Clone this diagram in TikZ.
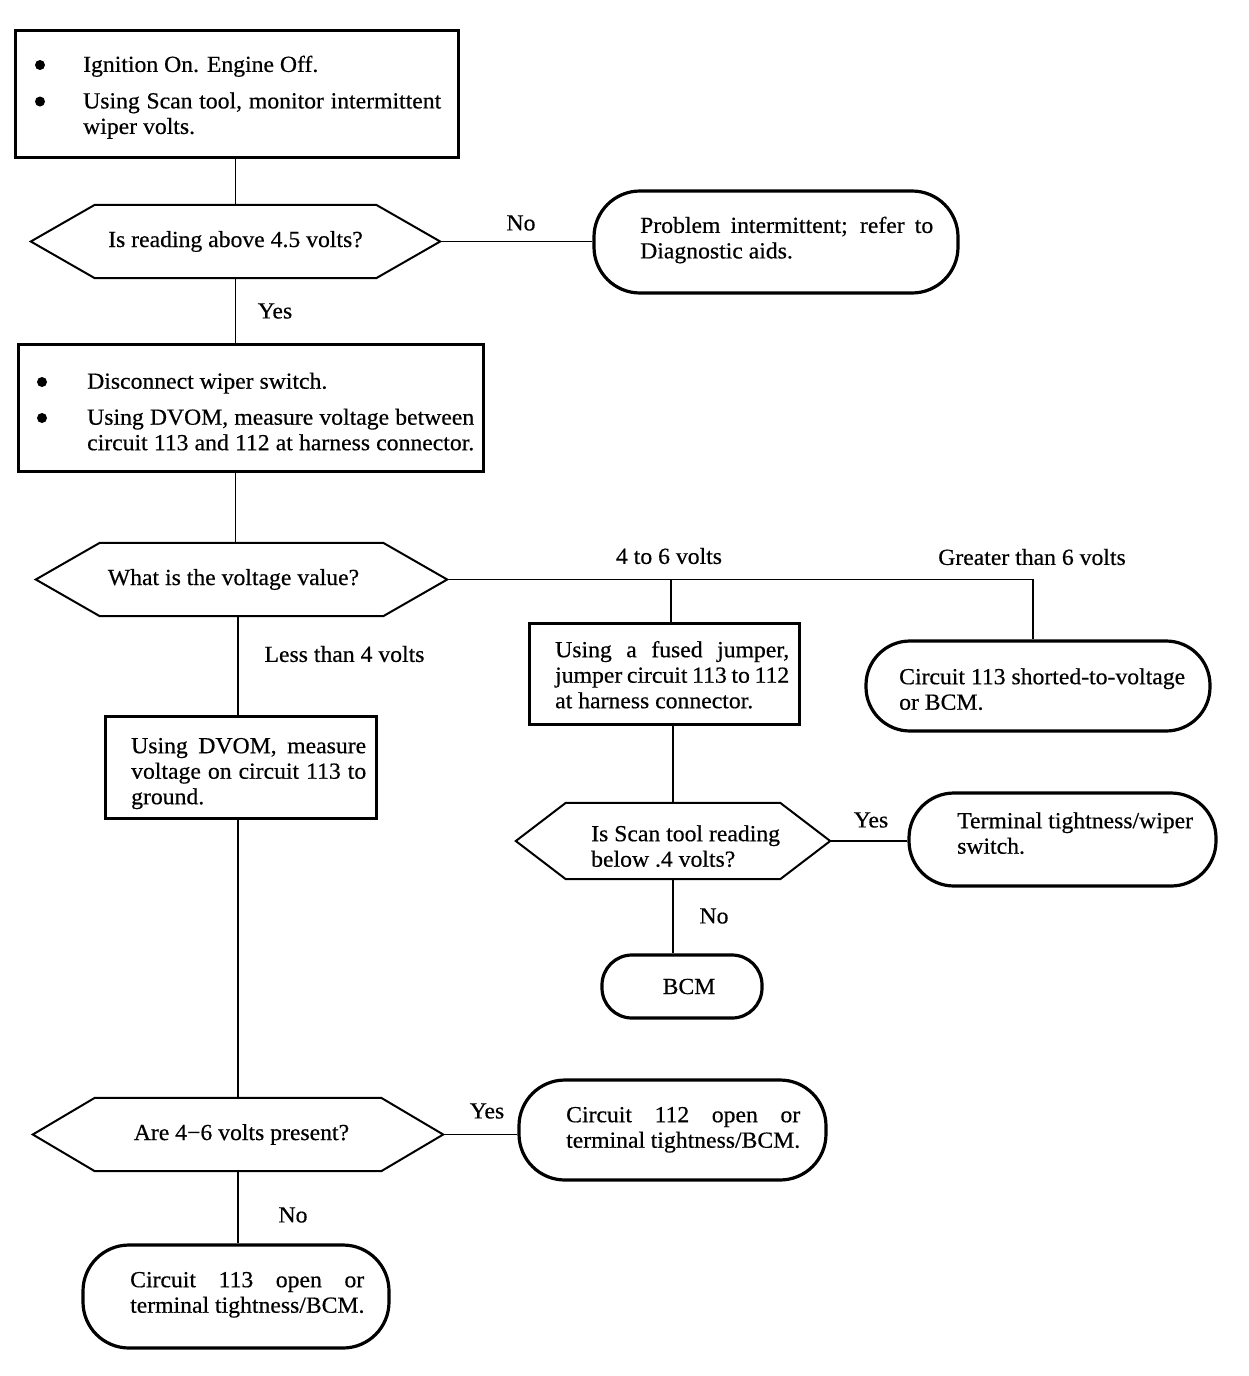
\documentclass[tikz,border=0pt]{standalone}
\usepackage{fontspec}
\setmainfont{Liberation Serif}[FakeStretch=1.03,FakeBold=0.5]
\usetikzlibrary{calc}
\newcommand\hexdraw[2]{\draw[hexline] (#1.west) -- ([xshift=#2]#1.north west) -- ([xshift=-#2]#1.north east) -- (#1.east) -- ([xshift=-#2]#1.south east) -- ([xshift=#2]#1.south west) -- cycle;}
\begin{document}
\begin{tikzpicture}[x=1pt,y=-1pt,
  every node/.style={font=\fontsize{23}{25.5}\selectfont},
  boxshape/.style={draw, line width=3pt, rectangle, inner sep=0pt},
  termbox/.style={draw, line width=3.2pt, rectangle, rounded corners=#1, inner sep=0pt},
  hexnode/.style={inner sep=0pt},
  hexline/.style={line width=2pt, line join=miter},
  conn/.style={line width=1.5pt},
  txt/.style={anchor=north west, inner sep=0pt, align=left},
  lbl/.style={inner sep=0pt},
  bulletdot/.style={circle, fill, inner sep=0pt, minimum size=10pt}]
\fill[white] (0,0) rectangle (1248,1376);
\useasboundingbox (0,0) rectangle (1248,1376);

% Box 1
\node[boxshape, minimum width=443pt, minimum height=127pt] (b1) at (236.5,93.5) {};
\node[bulletdot] (b1d1) at (40,65) {};
\node[bulletdot] (b1d2) at (40,101.5) {};
\node[txt] (b1t) at (83,54.7) {\rule{0pt}{17pt}Ignition On. Engine Off.\\[11pt]
  \makebox[358pt][s]{Using Scan tool, monitor intermittent}\\
  wiper volts.};

% Decision 1
\node[hexnode, minimum width=409pt, minimum height=73pt] (d1) at (235.5,241.5) {Is reading above 4.5 volts?};
\hexdraw{d1}{64pt}
\draw[conn] (d1.north |- b1.south) -- (d1.north);

% Terminal 1
\node[termbox=46pt, minimum width=364pt, minimum height=102pt] (t1) at (776,242) {};
\node[txt] (t1t) at (640,215.7) {\rule{0pt}{17pt}\makebox[293pt][s]{Problem intermittent; refer to}\\
  Diagnostic aids.};
\draw[conn] (d1.east) -- (d1.east -| t1.west);
\node[lbl] (l1) at (521,223) {No};

% Box 2
\node[boxshape, minimum width=465pt, minimum height=127pt] (b2) at (250.5,407.5) {};
\draw[conn] (d1.south) -- (d1.south |- b2.north);
\node[lbl] (l2) at (275,311) {Yes};
\node[bulletdot] (b2d1) at (42,382) {};
\node[bulletdot] (b2d2) at (42,418) {};
\node[txt] (b2t) at (87,371.5) {\rule{0pt}{17pt}Disconnect wiper switch.\\[10.5pt]
  \makebox[387pt][s]{Using DVOM, measure voltage between}\\
  \makebox[387pt][s]{circuit 113 and 112 at harness connector.}};

% Decision 2
\node[hexnode, minimum width=411pt, minimum height=73pt] (d2) at (241.5,579.5) {What is the voltage value?\hspace*{16pt}};
\hexdraw{d2}{64pt}
\draw[conn] (d1.south |- b2.south) -- (d1.south |- d2.north);

\coordinate (j1) at (671,579.5);
\coordinate (j2) at (1033,579.5);

% Box 3
\node[boxshape, minimum width=270pt, minimum height=101pt] (b3) at (664,673.5) {};
\node[txt] (b3t) at (555,640) {\rule{0pt}{17pt}\makebox[234pt][s]{Using a fused jumper,}\\
  \makebox[234pt][s]{jumper circuit 113 to 112}\\
  at harness connector.};

% Terminal 2
\node[termbox=44pt, minimum width=344pt, minimum height=90pt] (t2) at (1038,686) {};
\node[txt] (t2t) at (899,667) {\rule{0pt}{17pt}Circuit 113 shorted-to-voltage\\
  or BCM.};

\draw[conn] (d2.east) -- (j2) -- (j2 |- t2.north);
\draw[conn] (j1) -- (j1 |- b3.north);
\node[lbl] (l3) at (669,556) {4 to 6 volts};
\node[lbl] (l4) at (1032,557) {Greater than 6 volts};

% Box 4
\node[boxshape, minimum width=271pt, minimum height=102pt] (b4) at (240.5,767) {};
\node[txt] (b4t) at (131,736) {\rule{0pt}{17pt}\makebox[235pt][s]{Using DVOM, measure}\\
  \makebox[235pt][s]{voltage on circuit 113 to}\\
  ground.};

% Decision 4
\node[hexnode, minimum width=410pt, minimum height=73pt] (d4) at (238,1134.5) {\hspace*{7pt}Are 4−6 volts present?};
\hexdraw{d4}{62pt}
\draw[conn] (d4.north |- d2.south) -- (d4.north |- b4.north);
\node[lbl] (l5) at (344.5,654) {Less than 4 volts};
\draw[conn] (d4.north |- b4.south) -- (d4.north);

% Decision 3
\node[hexnode, minimum width=314pt, minimum height=76pt] (d3) at (673,841) {};
\hexdraw{d3}{50pt}
\node[txt] (d3t) at (591,824) {\rule{0pt}{17pt}Is Scan tool reading\\
  below .4 volts?};
\draw[conn] (d3.north |- b3.south) -- (d3.north);

% Terminal 3
\node[termbox=45pt, minimum width=307pt, minimum height=93pt] (t3) at (1062.5,839.5) {};
\node[txt] (t3t) at (957,811) {\rule{0pt}{17pt}Terminal tightness/wiper\\
  switch.};
\draw[conn] (d3.east) -- (d3.east -| t3.west);
\node[lbl] (l6) at (871,820) {Yes};

% BCM
\node[termbox=30pt, minimum width=160pt, minimum height=63pt] (tB) at (682,986.5) {\hspace*{14pt}BCM};
\draw[conn] (d3.south) -- (d3.south |- tB.north);
\node[lbl] (l7) at (714,916) {No};

% Terminal 4
\node[termbox=46pt, minimum width=307pt, minimum height=100pt] (t4) at (672.5,1130) {};
\node[txt] (t4t) at (566,1105) {\rule{0pt}{17pt}\makebox[234pt][s]{Circuit 112 open or}\\
  \makebox[234pt][s]{terminal tightness/BCM.}};
\draw[conn] (d4.east) -- (d4.east -| t4.west);
\node[lbl] (l8) at (487,1111) {Yes};

% Terminal 5
\node[termbox=46pt, minimum width=306pt, minimum height=103pt] (t5) at (236,1296.5) {};
\node[txt] (t5t) at (130,1270) {\rule{0pt}{17pt}\makebox[234pt][s]{Circuit 113 open or}\\
  terminal tightness/BCM.};
\draw[conn] (d4.south) -- (d4.south |- t5.north);
\node[lbl] (l9) at (293,1215) {No};
\end{tikzpicture}
\end{document}
